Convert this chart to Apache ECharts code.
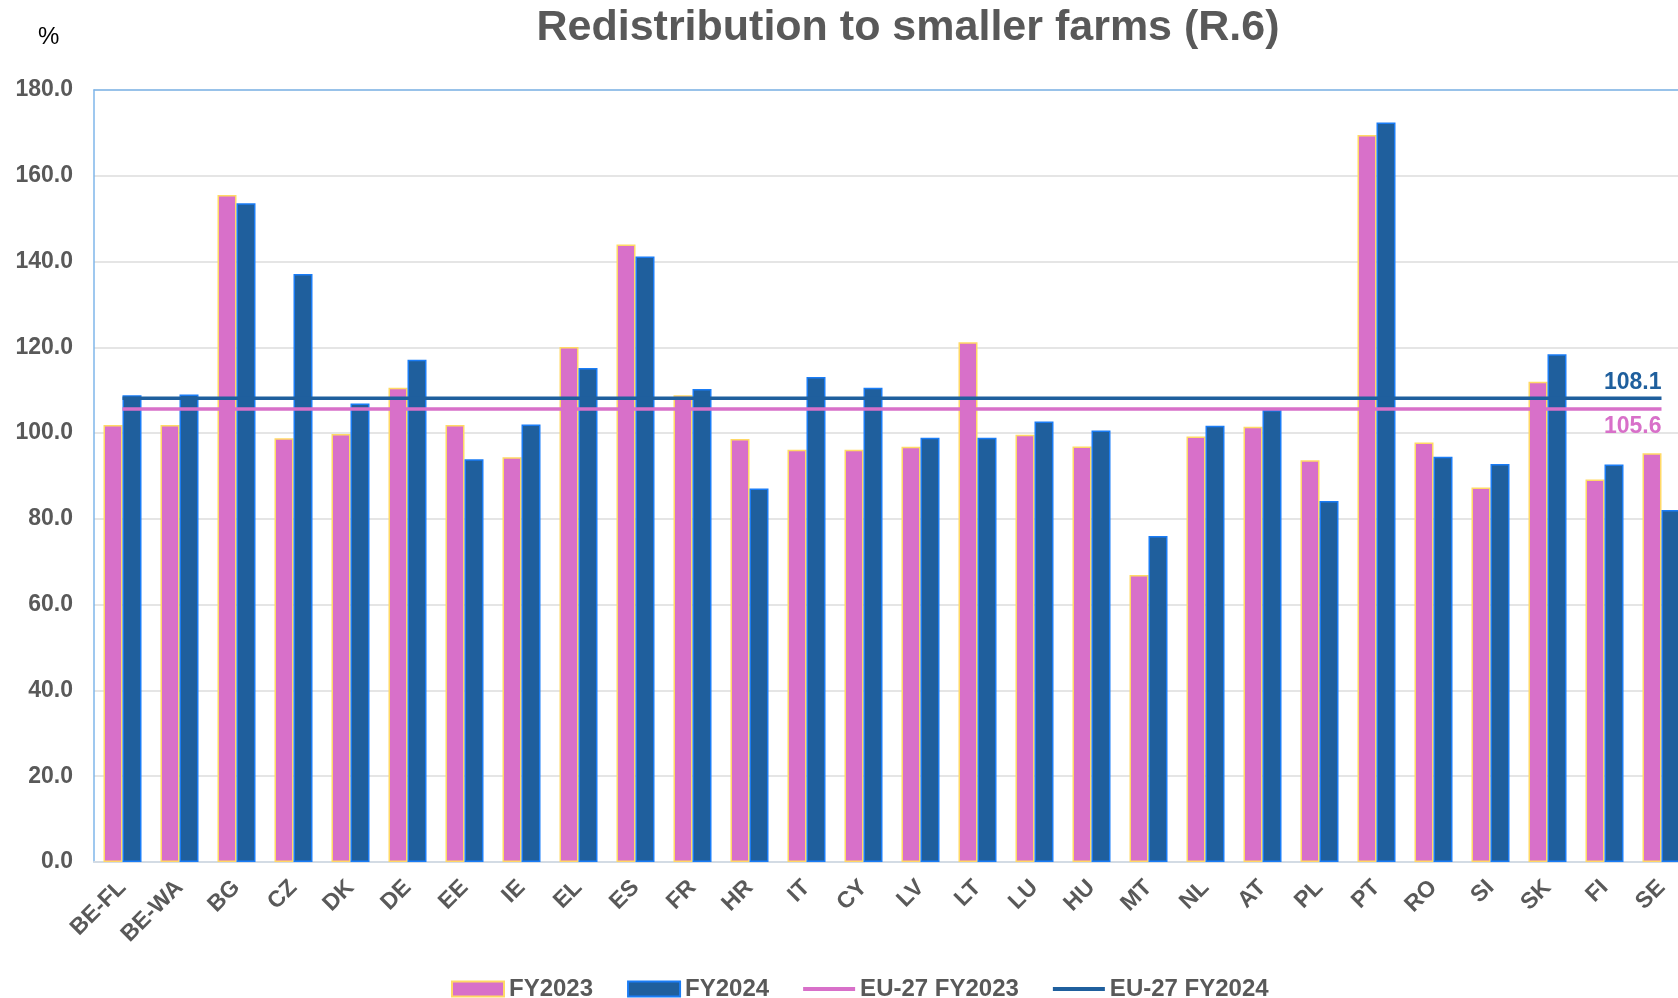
<!DOCTYPE html>
<html>
<head>
<meta charset="utf-8">
<title>Redistribution to smaller farms (R.6)</title>
<script src="https://cdn.jsdelivr.net/npm/echarts@6/dist/echarts.min.js"></script>
<style>
    html, body { margin: 0; padding: 0; background: #fff; }
    #chart { width: 1678px; height: 998px; }
</style>
</head>
<body>
<div id="chart"></div>
<script>
// member states / regions
var countries = ['BE-FL', 'BE-WA', 'BG', 'CZ', 'DK', 'DE', 'EE', 'IE', 'EL', 'ES', 'FR', 'HR', 'IT', 'CY',
    'LV', 'LT', 'LU', 'HU', 'MT', 'NL', 'AT', 'PL', 'PT', 'RO', 'SI', 'SK', 'FI', 'SE'];

var fy2023 = [101.9, 101.9, 155.5, 98.8, 99.8, 110.6, 101.9, 94.4, 120.1, 144.0, 108.8, 98.6, 96.1, 96.1,
    96.8, 121.2, 99.6, 96.9, 66.9, 99.2, 101.5, 93.7, 169.5, 97.8, 87.3, 112.0, 89.2, 95.3];
var fy2024 = [108.8, 109.0, 153.6, 137.1, 106.9, 117.1, 93.9, 102.0, 115.2, 141.2, 110.3, 87.1, 113.1, 110.6,
    98.9, 98.9, 102.7, 100.6, 76.0, 101.7, 105.4, 84.2, 172.4, 94.5, 92.8, 118.4, 92.7, 82.1];

var eu2023 = 105.6;
var eu2024 = 108.1;

var yTicks = [0, 20, 40, 60, 80, 100, 120, 140, 160, 180];

var pink = '#d870c9';
var navy = '#1f5f9d';
var grey = '#595959';
var font = 'Liberation Sans, Arial, sans-serif';

var avg2023 = countries.map(function () { return eu2023; });
var avg2024 = countries.map(function () { return eu2024; });
var last = countries.length - 1;
var lineIcon = 'path://M0,0H52V4H0Z';

function lastOnly(p) {
    return p.dataIndex === last ? p.value.toFixed(1) : '';
}

var chart = echarts.init(document.getElementById('chart'));
var option = {
    animation: false,
    textStyle: { fontFamily: font },
    title: [
        {
            text: 'Redistribution to smaller farms (R.6)',
            left: 903, top: 2, textAlign: 'center',
            textStyle: { fontSize: 43, fontWeight: 'bold', color: grey, fontFamily: font }
        },
        {
            text: '%', left: 33, top: 20,
            textStyle: { fontSize: 24, fontWeight: 'normal', color: '#000', fontFamily: font }
        }
    ],
    grid: { left: 94, top: 90, width: 1596, bottom: 136, outerBoundsMode: 'none', containLabel: false },
    legend: {
        left: 446, top: 972,
        itemWidth: 52, itemHeight: 15, itemGap: 34,
        textStyle: { fontSize: 24, fontWeight: 'bold', color: grey, fontFamily: font },
        data: [
            { name: 'FY2023', icon: 'rect' },
            { name: 'FY2024', icon: 'rect' },
            { name: 'EU-27 FY2023', icon: lineIcon, itemStyle: { color: pink, borderWidth: 0 } },
            { name: 'EU-27 FY2024', icon: lineIcon, itemStyle: { color: navy, borderWidth: 0 } }
        ]
    },
    xAxis: [
        {
            type: 'category',
            data: countries,
            axisLine: { lineStyle: { color: '#d3dbe4', width: 2 } },
            axisTick: { show: false },
            axisLabel: {
                rotate: 45, margin: 22, interval: 0,
                fontSize: 23, fontWeight: 'bold', color: grey, fontFamily: font
            }
        },
        {
            type: 'category',
            position: 'top',
            data: countries,
            axisLine: { lineStyle: { color: '#7fb6ea', width: 1.5 } },
            axisTick: { show: false },
            axisLabel: { show: false }
        }
    ],
    yAxis: {
        type: 'value',
        min: yTicks[0], max: yTicks[yTicks.length - 1], interval: 20,
        axisLine: { show: true, lineStyle: { color: '#7fb6ea', width: 1.5 } },
        axisTick: { show: false },
        splitLine: { lineStyle: { color: '#dcdcdc', width: 1.5 } },
        axisLabel: {
            margin: 21,
            fontSize: 23, fontWeight: 'bold', color: grey, fontFamily: font,
            formatter: function (v) { return v.toFixed(1); }
        }
    },
    series: [
        {
            name: 'FY2023', type: 'bar',
            data: fy2023,
            barWidth: 19, barGap: '0%',
            itemStyle: { color: pink, borderColor: '#ffd966', borderWidth: 1.5 }
        },
        {
            name: 'FY2024', type: 'bar',
            data: fy2024,
            barWidth: 19,
            itemStyle: { color: navy, borderColor: '#1a7cf5', borderWidth: 1.5 }
        },
        {
            name: 'EU-27 FY2023', type: 'line',
            data: avg2023,
            symbol: 'circle', symbolSize: 0.1, showSymbol: true,
            z: 5,
            lineStyle: { color: pink, width: 3.5 },
            itemStyle: { color: pink },
            label: {
                show: true, position: 'bottom', align: 'right', distance: 6,
                fontSize: 23, fontWeight: 'bold', color: pink, fontFamily: font,
                formatter: lastOnly
            }
        },
        {
            name: 'EU-27 FY2024', type: 'line',
            data: avg2024,
            symbol: 'circle', symbolSize: 0.1, showSymbol: true,
            z: 5,
            lineStyle: { color: navy, width: 3.5 },
            itemStyle: { color: navy },
            label: {
                show: true, position: 'top', align: 'right', distance: 4,
                fontSize: 23, fontWeight: 'bold', color: navy, fontFamily: font,
                formatter: lastOnly
            }
        }
    ]
};
chart.setOption(option);
</script>
</body>
</html>
